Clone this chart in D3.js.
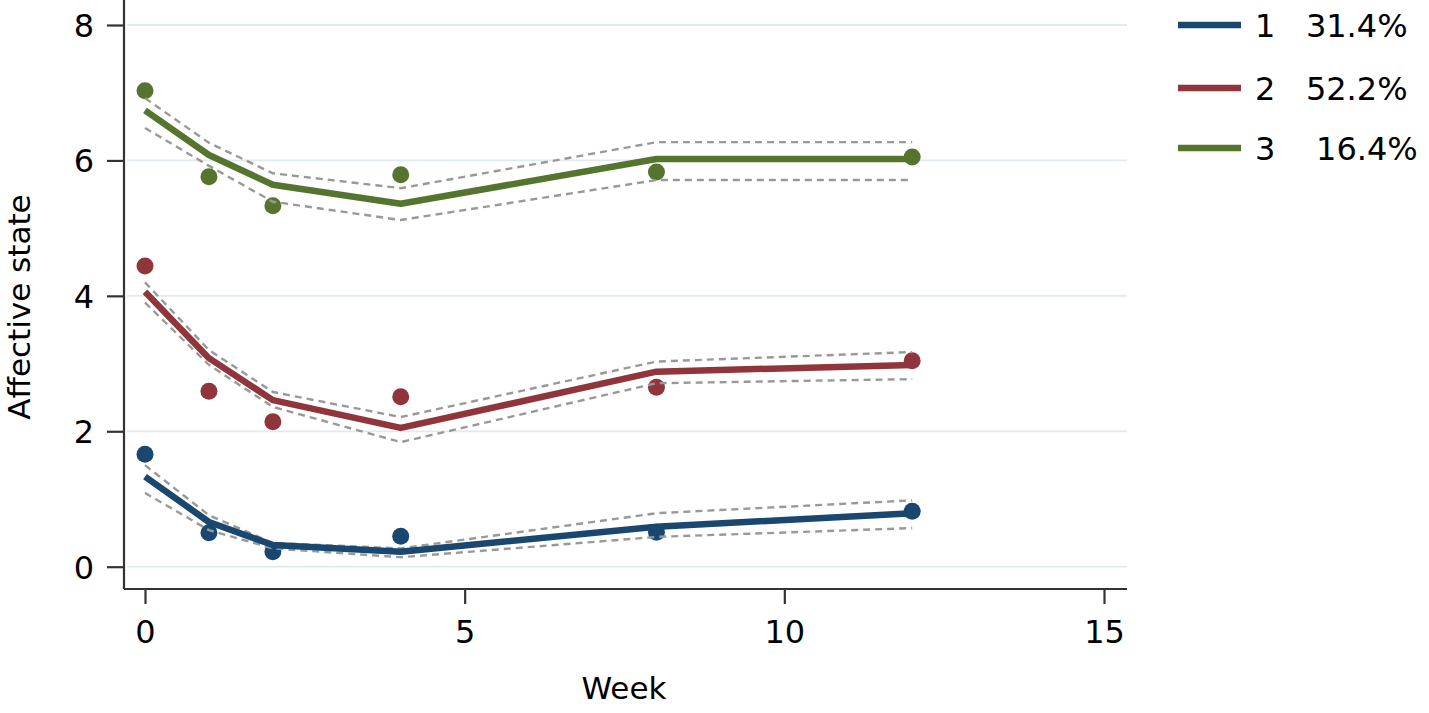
<!DOCTYPE html>
<html><head><meta charset="utf-8">
<script src="https://cdn.jsdelivr.net/npm/d3@7"></script>
<style>
html,body{margin:0;padding:0;background:#fff;}
text{font-family:"DejaVu Sans",Verdana,sans-serif;fill:#000;}
</style></head>
<body>
<svg id="chart" width="1429" height="713"></svg>
<script>
// ---- data ----
const weeks = [0, 1, 2, 4, 8, 12];
const classNames = ["1", "2", "3"];
const classLabels = ["1   31.4%", "2   52.2%", "3    16.4%"];
const classColors = ["#1a476f", "#90353b", "#55752f"];
// observed means (points)
const obs1 = [1.66, 0.50, 0.22, 0.45, 0.51, 0.82];
const obs2 = [4.44, 2.59, 2.14, 2.51, 2.65, 3.04];
const obs3 = [7.03, 5.76, 5.33, 5.79, 5.83, 6.05];
// estimated trajectories (lines)
const fit1 = [1.33, 0.66, 0.32, 0.22, 0.59, 0.79];
const fit2 = [4.06, 3.08, 2.46, 2.05, 2.88, 2.98];
const fit3 = [6.74, 6.08, 5.64, 5.36, 6.02, 6.02];
// confidence bands (dashed)
const upper1 = [1.50, 0.76, 0.35, 0.27, 0.79, 0.98];
const lower1 = [1.09, 0.54, 0.27, 0.14, 0.44, 0.57];
const upper2 = [4.20, 3.20, 2.58, 2.21, 3.03, 3.17];
const lower2 = [3.90, 2.98, 2.36, 1.84, 2.71, 2.77];
const upper3 = [6.92, 6.26, 5.81, 5.59, 6.27, 6.27];
const lower3 = [6.48, 5.92, 5.39, 5.12, 5.71, 5.71];
const xTicks = [0, 5, 10, 15];
const yTicks = [0, 2, 4, 6, 8];
const xTitle = "Week";
const yTitle = "Affective state";

const obs = [obs1, obs2, obs3];
const fits = [fit1, fit2, fit3];
const uppers = [upper1, upper2, upper3];
const lowers = [lower1, lower2, lower3];

// ---- layout ----
const svg = d3.select("#chart");
const x = d3.scaleLinear().domain([0, 15]).range([145, 1104]);
const y = d3.scaleLinear().domain([0, 8]).range([566.7, 25]);
const plotLeft = 124, plotRight = 1127, plotBottom = 589, plotTop = 0;

// gridlines
svg.append("g").selectAll("line").data(yTicks).join("line")
  .attr("x1", plotLeft + 3).attr("x2", plotRight)
  .attr("y1", d => y(d)).attr("y2", d => y(d))
  .attr("stroke", "#e1eaee").attr("stroke-width", 1.8);

// axes
const yAxis = d3.axisLeft(y).tickValues(yTicks).tickSize(17).tickPadding(13);
const gy = svg.append("g").attr("transform", `translate(${plotLeft},0)`).call(yAxis);
gy.select(".domain").attr("d", `M0,${plotTop}V${plotBottom}`);
const xAxis = d3.axisBottom(x).tickValues(xTicks).tickSize(15).tickPadding(16);
const gx = svg.append("g").attr("transform", `translate(0,${plotBottom})`).call(xAxis);
gx.select(".domain").attr("d", `M${plotLeft},0H${plotRight}`);
[gx, gy].forEach(g => {
  g.select(".domain").attr("stroke", "#333").attr("stroke-width", 2.2);
  g.selectAll(".tick line").attr("stroke", "#333").attr("stroke-width", 2.2);
  g.selectAll(".tick text").attr("font-size", 32).attr("font-family", "DejaVu Sans").attr("fill", "#000");
});
gy.selectAll(".tick text").attr("dy", "0.36em");

// titles
svg.append("text").attr("x", 624).attr("y", 699).attr("text-anchor", "middle")
  .attr("font-size", 31).text(xTitle);
svg.append("text").attr("transform", "translate(30,307) rotate(-90)").attr("text-anchor", "middle")
  .attr("font-size", 31).text(yTitle);

const line = d3.line().x((d, i) => x(weeks[i])).y(d => y(d));

// points
classNames.forEach((c, k) => {
  svg.append("g").selectAll("circle").data(obs[k]).join("circle")
    .attr("cx", (d, i) => x(weeks[i])).attr("cy", d => y(d)).attr("r", 8.5)
    .attr("fill", classColors[k]);
});
// CI dashed
classNames.forEach((c, k) => {
  [uppers[k], lowers[k]].forEach(arr => {
    svg.append("path").attr("d", line(arr)).attr("fill", "none")
      .attr("stroke", "#999").attr("stroke-width", 2.4).attr("stroke-dasharray", "7,5");
  });
});
// fitted lines
classNames.forEach((c, k) => {
  svg.append("path").attr("d", line(fits[k])).attr("fill", "none")
    .attr("stroke", classColors[k]).attr("stroke-width", 6.5).attr("stroke-linejoin", "round");
});

// legend
const legY = [25, 88, 148];
const leg = svg.append("g").selectAll("g").data(classNames).join("g")
  .attr("transform", (d, i) => `translate(0,${legY[i]})`);
leg.append("line").attr("x1", 1178).attr("x2", 1241).attr("y1", 0).attr("y2", 0)
  .attr("stroke", (d, i) => classColors[i]).attr("stroke-width", 6.5);
leg.append("text").attr("x", 1255).attr("y", 0).attr("dy", "0.36em")
  .attr("font-size", 32).style("white-space", "pre").text((d, i) => classLabels[i]);
</script>
</body></html>
